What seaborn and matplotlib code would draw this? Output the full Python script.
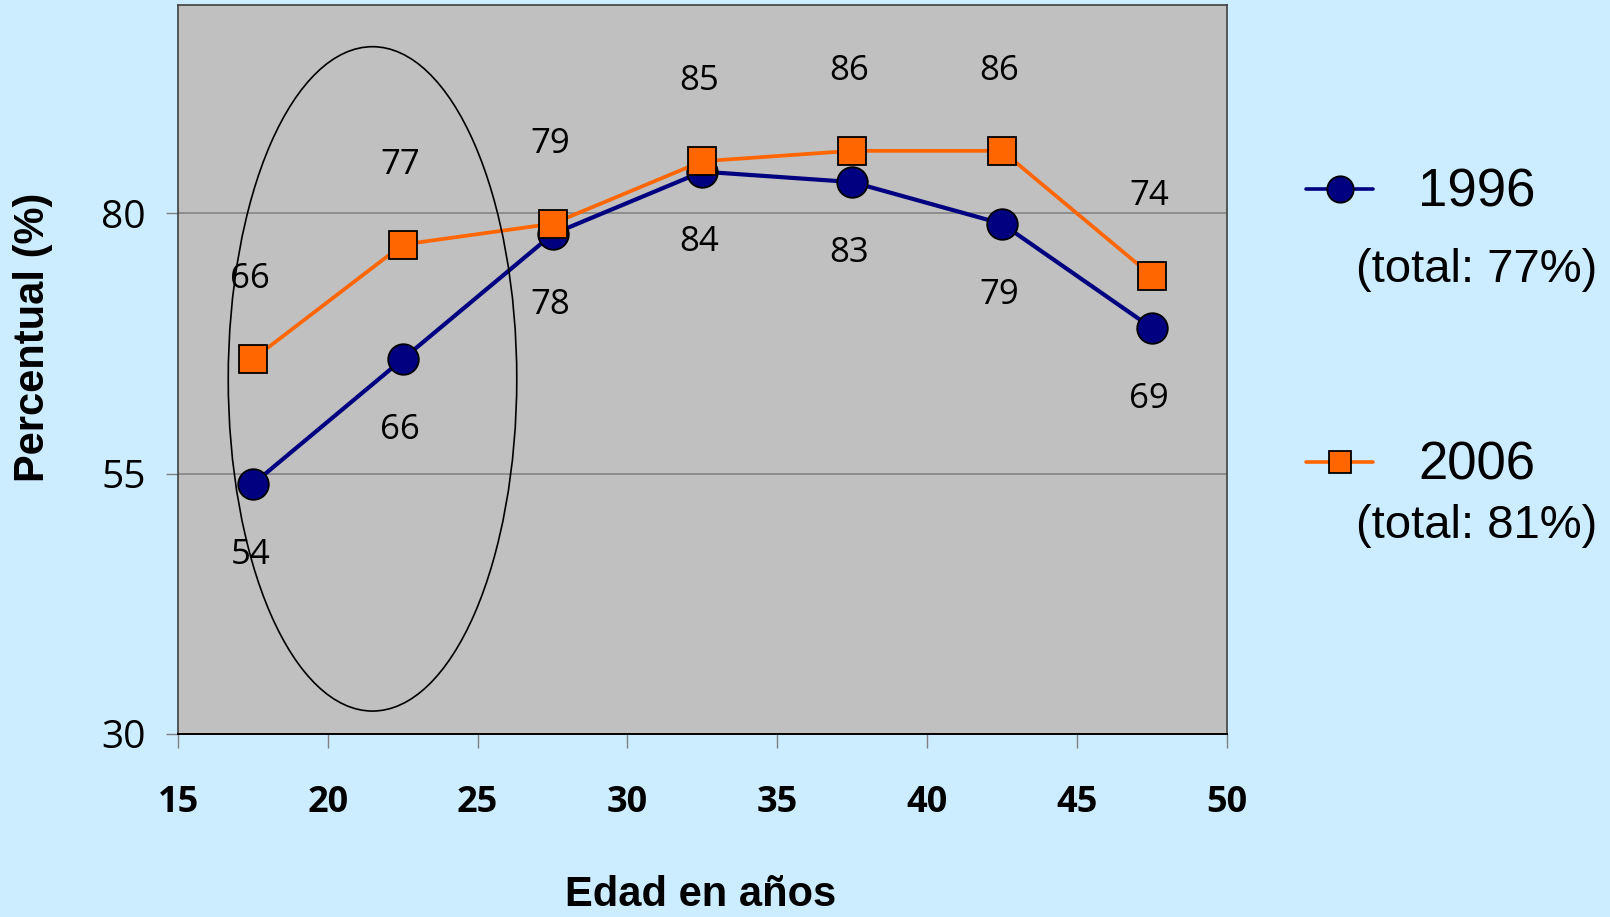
import matplotlib
matplotlib.use("Agg")
import matplotlib.pyplot as plt
from matplotlib.patches import Ellipse
from matplotlib.lines import Line2D
import pandas as pd
import seaborn as sns

# Tasas por grupo de edad (punto medio de cada quinquenio)
edad = [17.5, 22.5, 27.5, 32.5, 37.5, 42.5, 47.5]
pct_1996 = [54, 66, 78, 84, 83, 79, 69]
pct_2006 = [66, 77, 79, 85, 86, 86, 74]
anios = ["1996", "2006"]
totales = ["(total: 77%)", "(total: 81%)"]
x_ticks = [15, 20, 25, 30, 35, 40, 45, 50]
y_ticks = [30, 55, 80]

AZUL = "#000080"
NARANJA = "#FF6600"
FONDO = "#CCECFF"
PANEL = "#C0C0C0"

sns.set_style("white")
plt.rcParams["font.family"] = ["Open Sans", "DejaVu Sans"]
plt.rcParams["text.color"] = "black"
plt.rcParams["xtick.labelcolor"] = "black"
plt.rcParams["ytick.labelcolor"] = "black"

fig = plt.figure(figsize=(16.1, 9.17), dpi=100, facecolor=FONDO)
ax = fig.add_axes([0.1106, 0.1996, 0.6513, 0.7949])
ax.set_facecolor(PANEL)

df = pd.DataFrame({"edad": edad, "p1996": pct_1996, "p2006": pct_2006})

sns.lineplot(data=df, x="edad", y="p1996", ax=ax, color=AZUL, lw=3.0,
             marker="o", markersize=22, markeredgecolor="black",
             markeredgewidth=1.3, zorder=3)
sns.lineplot(data=df, x="edad", y="p2006", ax=ax, color=NARANJA, lw=2.7,
             marker="s", markersize=19.5, markeredgecolor="black",
             markeredgewidth=1.3, zorder=4)

# Etiquetas de valores: 2006 por encima, 1996 por debajo
for x, v in zip(edad, pct_2006):
    ax.annotate(f"{v}", (x, v), xytext=(-2, 57.6), textcoords="offset points",
                ha="center", va="center", fontsize=25, color="black")
for x, v in zip(edad, pct_1996):
    ax.annotate(f"{v}", (x, v), xytext=(-2, -51), textcoords="offset points",
                ha="center", va="center", fontsize=25, color="black")

# Óvalo que resalta los grupos más jóvenes
ax.add_patch(Ellipse((21.49, 64.1), 9.63, 63.8, fill=False, ec="black",
                     lw=1.2, zorder=6))

ax.set_xlim(15, 50)
ax.set_ylim(30, 100)
ax.set_xticks(x_ticks)
ax.set_yticks(y_ticks)
ax.set_xticklabels([str(t) for t in x_ticks], fontweight="bold")
ax.set_xlabel("")
ax.set_ylabel("")

ax.yaxis.grid(True, color="#808080", lw=1.1)
ax.xaxis.grid(False)
ax.set_axisbelow(True)

ax.tick_params(axis="y", direction="out", length=9, width=1, color="#808080",
               labelsize=28, pad=14, left=True, labelcolor="black")
ax.tick_params(axis="x", direction="out", length=10, width=1, color="#808080",
               labelsize=26, pad=27, bottom=True, labelcolor="black")

for side in ["left", "top", "right"]:
    ax.spines[side].set_color("#404040")
    ax.spines[side].set_linewidth(1.2)
ax.spines["bottom"].set_color("black")
ax.spines["bottom"].set_linewidth(1.4)

# Títulos de los ejes
fig.text(33 / 1610, 1 - 337 / 917, "Percentual (%)", rotation=90,
         ha="center", va="center", fontsize=30, fontweight="bold",
         color="black", family=["Liberation Sans", "DejaVu Sans"])
fig.text(701 / 1610, 11 / 917, "Edad en años", ha="center", va="baseline",
         fontsize=30, fontweight="bold", color="black",
         family=["Liberation Sans", "DejaVu Sans"])

# Leyenda
leyenda = [
    (anios[0], totales[0], AZUL, "o", 19, 189, 206.7, 281.7),
    (anios[1], totales[1], NARANJA, "s", 15.6, 462, 479.3, 538.3),
]
for anio, total, color, mk, ms, y_linea, y_anio, y_total in leyenda:
    fy = 1 - y_linea / 917
    fig.add_artist(Line2D([1306 / 1610, 1373 / 1610], [fy, fy],
                          transform=fig.transFigure, color=color, lw=2.6))
    fig.add_artist(Line2D([1340 / 1610], [fy], transform=fig.transFigure,
                          marker=mk, markersize=ms, markerfacecolor=color,
                          markeredgecolor="black", markeredgewidth=1.3,
                          linestyle="none"))
    fig.text(1477 / 1610, 1 - y_anio / 917, anio, ha="center", va="baseline",
             fontsize=38, color="black",
             family=["Liberation Sans", "DejaVu Sans"])
    fig.text(1477 / 1610, 1 - y_total / 917, total, ha="center",
             va="baseline", fontsize=34, color="black",
             family=["Liberation Sans", "DejaVu Sans"])

fig.savefig("out.png", dpi=100, facecolor=FONDO)
